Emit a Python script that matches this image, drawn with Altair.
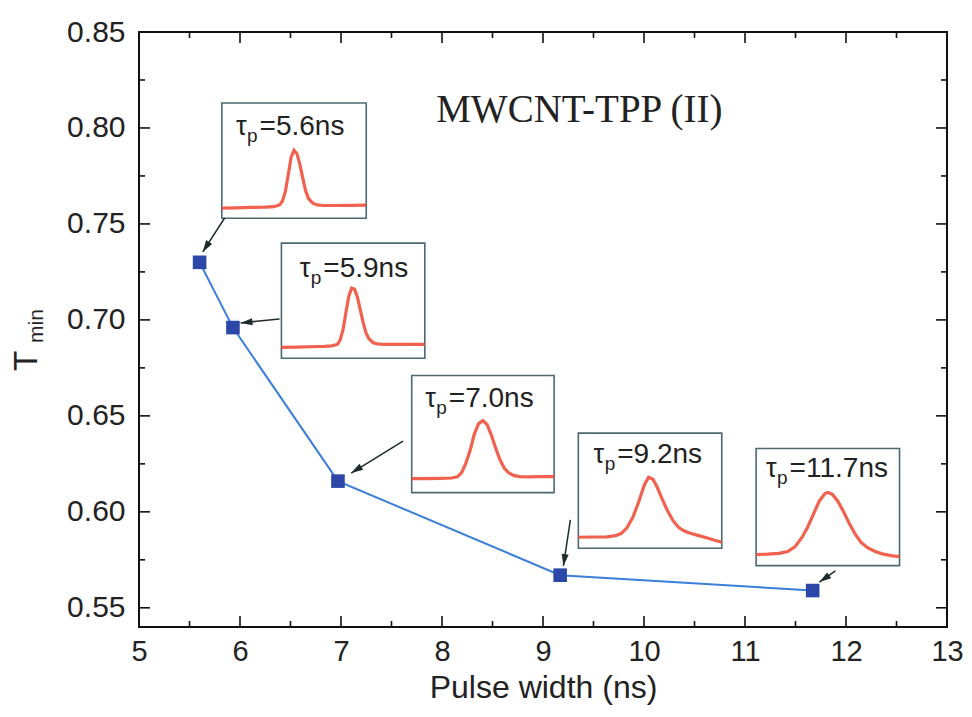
import math
import altair as alt
import pandas as pd

# ---------------- data ----------------
pulse_width = [5.60, 5.93, 6.97, 9.17, 11.67]
t_min = [0.730, 0.696, 0.616, 0.567, 0.559]

x_ticks_major = [5, 6, 7, 8, 9, 10, 11, 12, 13]
x_ticks_minor = [5.5, 6.5, 7.5, 8.5, 9.5, 10.5, 11.5, 12.5]
y_ticks_major = [0.55, 0.60, 0.65, 0.70, 0.75, 0.80, 0.85]
y_ticks_minor = [0.575, 0.625, 0.675, 0.725, 0.775, 0.825]

inset_text = ["=5.6ns", "=5.9ns", "=7.0ns", "=9.2ns", "=11.7ns"]

# inset boxes (data units)
box_left = [5.82, 6.41, 7.70, 9.35, 11.11]
box_right = [7.25, 7.83, 9.11, 10.77, 12.53]
box_bottom = [0.753, 0.680, 0.610, 0.581, 0.572]
box_top = [0.813, 0.740, 0.671, 0.641, 0.633]

# label anchors (start of "=" text)
label_x = [6.174, 6.805, 8.048, 9.715, 11.422]
label_y = [0.7963, 0.7224, 0.6546, 0.6254, 0.6181]

# arrows: start -> tip
arrow_x0 = [5.848, 6.391, 7.614, 9.271, 11.895]
arrow_y0 = [0.7531, 0.7005, 0.6369, 0.5958, 0.5692]
arrow_x1 = [5.631, 6.006, 7.101, 9.202, 11.737]
arrow_y1 = [0.7354, 0.6984, 0.6202, 0.5718, 0.5634]

# pulse traces inside each inset: t across (0..1), v up (0..1)
pulse1_t = [0, .1, .2, .3, .36, .40, .42, .44, .46, .48, .50, .52, .54, .56, .58, .60, .63, .66, .70, .8, .9, 1.0]
pulse1_v = [.087, .090, .093, .096, .100, .115, .15, .23, .38, .53, .59, .56, .47, .35, .24, .17, .13, .115, .11, .11, .112, .113]
pulse2_t = [0, .1, .2, .3, .35, .39, .41, .43, .45, .47, .49, .51, .53, .55, .57, .59, .61, .64, .67, .72, .8, .9, 1.0]
pulse2_v = [.095, .097, .10, .104, .108, .12, .16, .25, .40, .54, .61, .60, .53, .42, .31, .22, .17, .135, .125, .12, .12, .12, .12]
pulse3_t = [0, .1, .2, .28, .32, .35, .38, .41, .44, .47, .50, .53, .56, .59, .62, .65, .68, .72, .76, .82, .9, 1.0]
pulse3_v = [.12, .12, .122, .125, .135, .17, .25, .36, .50, .59, .615, .58, .49, .38, .28, .21, .17, .145, .137, .135, .137, .137]
pulse4_t = [0, .1, .2, .26, .30, .34, .38, .42, .46, .49, .52, .55, .58, .62, .66, .70, .74, .78, .84, .9, .95, 1.0]
pulse4_v = [.096, .098, .10, .11, .13, .18, .27, .40, .55, .617, .60, .53, .44, .33, .24, .18, .15, .13, .11, .09, .07, .052]
pulse5_t = [0, .08, .16, .22, .27, .32, .36, .40, .44, .48, .50, .53, .57, .61, .65, .69, .73, .78, .83, .88, .94, 1.0]
pulse5_v = [.094, .098, .105, .12, .16, .24, .33, .44, .55, .615, .624, .61, .55, .46, .36, .27, .20, .15, .12, .10, .085, .077]

# ---------------- layout ----------------
W, H = 808, 595
XD = [5, 13]
YD = [0.54, 0.85]
FONT = "Liberation Sans"
BOX_STROKE = "#4a6a70"
RED = "#f0503c"

xs = alt.Scale(domain=XD, nice=False, zero=False)
ys = alt.Scale(domain=YD, nice=False, zero=False)

X_AXIS = alt.Axis(
    values=x_ticks_major, format="d", tickSize=0, domain=False, grid=False,
    labelFont=FONT, labelFontSize=29, labelColor="#222", labelPadding=10,
    labelFlush=False, labelOverlap=False,
    title="Pulse width (ns)", titleFont=FONT, titleFontSize=32,
    titleFontWeight="normal", titleColor="#222", titlePadding=6)
Y_AXIS = alt.Axis(
    values=y_ticks_major, format=".2f", tickSize=0, domain=False, grid=False,
    labelFont=FONT, labelFontSize=30, labelColor="#222", labelPadding=14,
    labelFlush=False, labelOverlap=False,
    title="")


def X(f):
    return alt.X(f, scale=xs, axis=X_AXIS, title="Pulse width (ns)")


def Y(f):
    return alt.Y(f, scale=ys, axis=Y_AXIS, title="")


main_df = pd.DataFrame({"x": pulse_width, "y": t_min})
box_df = pd.DataFrame({"x0": box_left, "x1": box_right, "y0": box_bottom, "y1": box_top})
lab_df = pd.DataFrame({"x": label_x, "y": label_y, "t": inset_text})

rows = []
pulses = [(pulse1_t, pulse1_v), (pulse2_t, pulse2_v), (pulse3_t, pulse3_v),
          (pulse4_t, pulse4_v), (pulse5_t, pulse5_v)]
for i, (tt, vv) in enumerate(pulses):
    for k, (t, v) in enumerate(zip(tt, vv)):
        rows.append({
            "box": i, "k": k,
            "x": box_left[i] + t * (box_right[i] - box_left[i]),
            "y": box_bottom[i] + v * (box_top[i] - box_bottom[i]),
        })
pulse_df = pd.DataFrame(rows)

sx = W / (XD[1] - XD[0])
sy = H / (YD[1] - YD[0])
angles = []
for a, b, c, d in zip(arrow_x0, arrow_y0, arrow_x1, arrow_y1):
    dxp = (c - a) * sx
    dyp = -(d - b) * sy
    angles.append(math.degrees(math.atan2(dxp, -dyp)) % 360)
arrow_df = pd.DataFrame({"x0": arrow_x0, "y0": arrow_y0, "x1": arrow_x1,
                         "y1": arrow_y1, "ang": angles})

one = pd.DataFrame({"a": [0]})

line = alt.Chart(main_df).mark_line(color="#3b7fd8", strokeWidth=2).encode(x=X("x:Q"), y=Y("y:Q"))
pts = alt.Chart(main_df).mark_point(shape="square", filled=True, size=185, opacity=1,
                                    color="#2c47a8").encode(x=X("x:Q"), y=Y("y:Q"))

boxes = alt.Chart(box_df).mark_rect(fill="white", stroke=BOX_STROKE, strokeWidth=1.6).encode(
    x=X("x0:Q"), x2="x1:Q", y=Y("y0:Q"), y2="y1:Q")

pulse_lines = alt.Chart(pulse_df).mark_line(color=RED, strokeWidth=3.2, opacity=0.9).encode(
    x=X("x:Q"), y=Y("y:Q"), detail="box:N", order="k:Q")

lab_main = alt.Chart(lab_df).mark_text(font=FONT, fontSize=28, align="left", dx=2,
                                       baseline="alphabetic", color="#222").encode(
    x=X("x:Q"), y=Y("y:Q"), text="t:N")
lab_tau = alt.Chart(lab_df).mark_text(font=FONT, fontSize=27, align="right", dx=-11,
                                      baseline="alphabetic", color="#222", text="τ").encode(
    x=X("x:Q"), y=Y("y:Q"))
lab_p = alt.Chart(lab_df).mark_text(font=FONT, fontSize=19, align="right", dx=0, dy=7,
                                    baseline="alphabetic", color="#222", text="p").encode(
    x=X("x:Q"), y=Y("y:Q"))

shafts = alt.Chart(arrow_df).mark_rule(color="#1e2b2b", strokeWidth=1.5).encode(
    x=X("x0:Q"), x2="x1:Q", y=Y("y0:Q"), y2="y1:Q")
heads = alt.Chart(arrow_df).mark_point(shape="M0,0L-0.6,2L0.6,2Z", filled=True, size=140,
                                       opacity=1, color="#1e2b2b", strokeWidth=0).encode(
    x=X("x1:Q"), y=Y("y1:Q"), angle=alt.Angle("ang:Q", scale=None))

title = alt.Chart(one).mark_text(text="MWCNT-TPP (II)", font="Liberation Serif", fontSize=39,
                                 align="center", baseline="alphabetic", color="#222").encode(
    x=alt.datum(9.36, scale=xs), y=alt.datum(0.8031, scale=ys))

ytitle_T = alt.Chart(one).mark_text(text="T", font=FONT, fontSize=33, angle=270,
                                    align="center", baseline="alphabetic", color="#222").encode(
    x=alt.value(-102), y=alt.value(329))
ytitle_min = alt.Chart(one).mark_text(text="min", font=FONT, fontSize=21, angle=270,
                                      align="left", baseline="alphabetic", color="#222").encode(
    x=alt.value(-96), y=alt.value(311))

tx = pd.DataFrame({"v": x_ticks_major})
txm = pd.DataFrame({"v": x_ticks_minor})
ty = pd.DataFrame({"v": y_ticks_major})
tym = pd.DataFrame({"v": y_ticks_minor})
TC = "#111"


def xtick(df, ya, yb):
    return alt.Chart(df).mark_rule(color=TC, strokeWidth=1.6).encode(
        x=X("v:Q"), y=alt.value(ya), y2=alt.value(yb))


def ytick(df, xa, xb):
    return alt.Chart(df).mark_rule(color=TC, strokeWidth=1.6).encode(
        y=Y("v:Q"), x=alt.value(xa), x2=alt.value(xb))


ticks = [
    xtick(tx, H, H - 11), xtick(txm, H, H - 6), xtick(tx, 0, 11), xtick(txm, 0, 6),
    ytick(ty, 0, 11), ytick(tym, 0, 6), ytick(ty, W, W - 11), ytick(tym, W, W - 6),
]

chart = alt.layer(
    line, pts, boxes, pulse_lines, lab_main, lab_tau, lab_p, shafts, heads,
    title, ytitle_T, ytitle_min, *ticks
).properties(
    width=W, height=H,
    padding={"left": 131, "top": 24, "right": 17, "bottom": 80},
    autosize=alt.AutoSizeParams(type="none"),
    background="white",
).configure_view(stroke="#111", strokeWidth=2)

chart.save("out.html", embed_options={"renderer": "svg", "actions": False})
